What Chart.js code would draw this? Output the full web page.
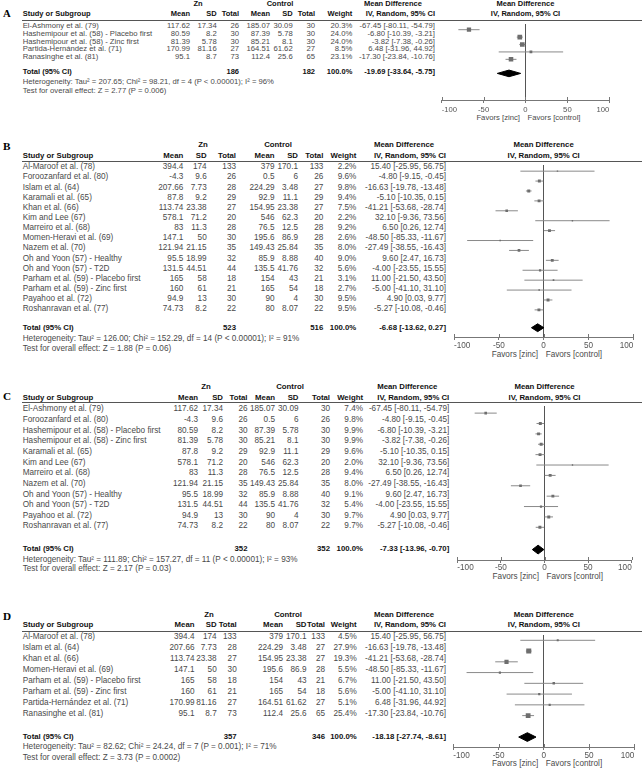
<!DOCTYPE html>
<html>
<head>
<meta charset="utf-8">
<script src="https://cdn.jsdelivr.net/npm/chart.js@4.4.1/dist/chart.umd.min.js"></script>
<style>
  html, body { margin: 0; padding: 0; background: #fff; }
  #page { position: relative; width: 642px; height: 768px; overflow: hidden; font-family: 'Liberation Sans', Arial, sans-serif; }
  .t { position: absolute; white-space: nowrap; line-height: 1; color: #4a4a4a; }
  .b { font-weight: bold; color: #111; }
  .lbl { font-family: 'Liberation Serif', 'Times New Roman', serif; font-weight: bold; color: #000; }
  .rule { position: absolute; height: 1px; background: #555; }
  canvas { position: absolute; }
</style>
</head>
<body>
<div id="page"></div>
<script>
// ---- panel A ----
const studiesA = ['El-Ashmony et al. (79)', 'Hashemipour et al. (58) - Placebo first', 'Hashemipour et al. (58) - Zinc first', 'Partida-Hernández et al. (71)', 'Ranasinghe et al. (81)'];
const znA = [[117.62, 17.34, 26], [80.59, 8.2, 30], [81.39, 5.78, 30], [170.99, 81.16, 27], [95.1, 8.7, 73]];
const ctrlA = [[185.07, 30.09, 30], [87.39, 5.78, 30], [85.21, 8.1, 30], [164.51, 61.62, 27], [112.4, 25.6, 65]];
const weightA = [20.3, 24.0, 24.0, 8.5, 23.1];
const mdA = [[-67.45, -80.11, -54.79], [-6.80, -10.39, -3.21], [-3.82, -7.38, -0.26], [6.48, -31.96, 44.92], [-17.30, -23.84, -10.76]];
const totalNA = [186, 182];
const totalMdA = [-19.69, -33.64, -5.75];
const hetA = 'Heterogeneity: Tau² = 207.65; Chi² = 98.21, df = 4 (P < 0.00001); I² = 96%';
const testA = 'Test for overall effect: Z = 2.77 (P = 0.006)';

// ---- panel B ----
const studiesB = ['Al-Maroof et al. (78)', 'Foroozanfard et al. (80)', 'Islam et al. (64)', 'Karamali et al. (65)', 'Khan et al. (66)', 'Kim and Lee (67)', 'Marreiro et al. (68)', 'Momen-Heravi et al. (69)', 'Nazem et al. (70)', 'Oh and Yoon (57) - Healthy', 'Oh and Yoon (57) - T2D', 'Parham et al. (59) - Placebo first', 'Parham et al. (59) - Zinc first', 'Payahoo et al. (72)', 'Roshanravan et al. (77)'];
const znB = [[394.4, 174, 133], [-4.3, 9.6, 26], [207.66, 7.73, 28], [87.8, 9.2, 29], [113.74, 23.38, 27], [578.1, 71.2, 20], [83, 11.3, 28], [147.1, 50, 30], [121.94, 21.15, 35], [95.5, 18.99, 32], [131.5, 44.51, 44], [165, 58, 18], [160, 61, 21], [94.9, 13, 30], [74.73, 8.2, 22]];
const ctrlB = [[379, 170.1, 133], [0.5, 6, 26], [224.29, 3.48, 27], [92.9, 11.1, 29], [154.95, 23.38, 27], [546, 62.3, 20], [76.5, 12.5, 28], [195.6, 86.9, 28], [149.43, 25.84, 35], [85.9, 8.88, 40], [135.5, 41.76, 32], [154, 43, 21], [165, 54, 18], [90, 4, 30], [80, 8.07, 22]];
const weightB = [2.2, 9.6, 9.8, 9.4, 7.5, 2.2, 9.2, 2.6, 8.0, 9.0, 5.6, 3.1, 2.7, 9.5, 9.5];
const mdB = [[15.40, -25.95, 56.75], [-4.80, -9.15, -0.45], [-16.63, -19.78, -13.48], [-5.10, -10.35, 0.15], [-41.21, -53.68, -28.74], [32.10, -9.36, 73.56], [6.50, 0.26, 12.74], [-48.50, -85.33, -11.67], [-27.49, -38.55, -16.43], [9.60, 2.47, 16.73], [-4.00, -23.55, 15.55], [11.00, -21.50, 43.50], [-5.00, -41.10, 31.10], [4.90, 0.03, 9.77], [-5.27, -10.08, -0.46]];
const totalNB = [523, 516];
const totalMdB = [-6.68, -13.62, 0.27];
const hetB = 'Heterogeneity: Tau² = 126.00; Chi² = 152.29, df = 14 (P < 0.00001); I² = 91%';
const testB = 'Test for overall effect: Z = 1.88 (P = 0.06)';

// ---- panel C ----
const studiesC = ['El-Ashmony et al. (79)', 'Foroozanfard et al. (80)', 'Hashemipour et al. (58) - Placebo first', 'Hashemipour et al. (58) - Zinc first', 'Karamali et al. (65)', 'Kim and Lee (67)', 'Marreiro et al. (68)', 'Nazem et al. (70)', 'Oh and Yoon (57) - Healthy', 'Oh and Yoon (57) - T2D', 'Payahoo et al. (72)', 'Roshanravan et al. (77)'];
const znC = [[117.62, 17.34, 26], [-4.3, 9.6, 26], [80.59, 8.2, 30], [81.39, 5.78, 30], [87.8, 9.2, 29], [578.1, 71.2, 20], [83, 11.3, 28], [121.94, 21.15, 35], [95.5, 18.99, 32], [131.5, 44.51, 44], [94.9, 13, 30], [74.73, 8.2, 22]];
const ctrlC = [[185.07, 30.09, 30], [0.5, 6, 26], [87.39, 5.78, 30], [85.21, 8.1, 30], [92.9, 11.1, 29], [546, 62.3, 20], [76.5, 12.5, 28], [149.43, 25.84, 35], [85.9, 8.88, 40], [135.5, 41.76, 32], [90, 4, 30], [80, 8.07, 22]];
const weightC = [7.4, 9.8, 9.9, 9.9, 9.6, 2.0, 9.4, 8.0, 9.1, 5.4, 9.7, 9.7];
const mdC = [[-67.45, -80.11, -54.79], [-4.80, -9.15, -0.45], [-6.80, -10.39, -3.21], [-3.82, -7.38, -0.26], [-5.10, -10.35, 0.15], [32.10, -9.36, 73.56], [6.50, 0.26, 12.74], [-27.49, -38.55, -16.43], [9.60, 2.47, 16.73], [-4.00, -23.55, 15.55], [4.90, 0.03, 9.77], [-5.27, -10.08, -0.46]];
const totalNC = [352, 352];
const totalMdC = [-7.33, -13.96, -0.70];
const hetC = 'Heterogeneity: Tau² = 111.89; Chi² = 157.27, df = 11 (P < 0.00001); I² = 93%';
const testC = 'Test for overall effect: Z = 2.17 (P = 0.03)';

// ---- panel D ----
const studiesD = ['Al-Maroof et al. (78)', 'Islam et al. (64)', 'Khan et al. (66)', 'Momen-Heravi et al. (69)', 'Parham et al. (59) - Placebo first', 'Parham et al. (59) - Zinc first', 'Partida-Hernández et al. (71)', 'Ranasinghe et al. (81)'];
const znD = [[394.4, 174, 133], [207.66, 7.73, 28], [113.74, 23.38, 27], [147.1, 50, 30], [165, 58, 18], [160, 61, 21], [170.99, 81.16, 27], [95.1, 8.7, 73]];
const ctrlD = [[379, 170.1, 133], [224.29, 3.48, 27], [154.95, 23.38, 27], [195.6, 86.9, 28], [154, 43, 21], [165, 54, 18], [164.51, 61.62, 27], [112.4, 25.6, 65]];
const weightD = [4.5, 27.9, 19.3, 5.5, 6.7, 5.6, 5.1, 25.4];
const mdD = [[15.40, -25.95, 56.75], [-16.63, -19.78, -13.48], [-41.21, -53.68, -28.74], [-48.50, -85.33, -11.67], [11.00, -21.50, 43.50], [-5.00, -41.10, 31.10], [6.48, -31.96, 44.92], [-17.30, -23.84, -10.76]];
const totalND = [357, 346];
const totalMdD = [-18.18, -27.74, -8.61];
const hetD = 'Heterogeneity: Tau² = 82.62; Chi² = 24.24, df = 7 (P = 0.001); I² = 71%';
const testD = 'Test for overall effect: Z = 3.73 (P = 0.0002)';

const axisTicks = [-100, -50, 0, 50, 100];

// layout of each panel (pixels)
const layoutA = { font: 7.7, bold: 7.5, labelY: 13, znY: 4, headY: 14, lineY: 20, row0: 26, rowH: 7.8, totalY: 72, hetY: 82, testY: 91,
  axisY: 100, tickY: 109, favY: 118, xMin: 441.7, xMax: 609.3, dia: 3.5, znX: 198, ctrlX: 280,
  col: { mean: 190, sd: 216.7, tot: 239, cmean: 270, csd: 292.7, ctot: 315, w: 352.3, ci: 435 } };
const layoutB = { font: 8.2, bold: 7.8, labelY: 147, znY: 145, headY: 155.5, lineY: 160.5, row0: 167.3, rowH: 10.14, totalY: 327.5, hetY: 338.5, testY: 349,
  axisY: 337.3, tickY: 345.5, favY: 354.5, xMin: 454, xMax: 633.3, dia: 4, znX: 203, ctrlX: 278,
  col: { mean: 183.3, sd: 206.7, tot: 236, cmean: 274.5, csd: 298, ctot: 323.3, w: 356.3, ci: 446 } };
const layoutC = { font: 8.2, bold: 7.8, labelY: 396.5, znY: 387, headY: 397.5, lineY: 402.2, row0: 409.3, rowH: 10.65, totalY: 549.3, hetY: 559.5, testY: 568.5,
  axisY: 560, tickY: 567, favY: 576.5, xMin: 457.3, xMax: 631.7, dia: 4.5, znX: 206, ctrlX: 290,
  col: { mean: 198, sd: 223, tot: 247.5, cmean: 275, csd: 298.5, ctot: 330, w: 363, ci: 449.3 } };
const layoutD = { font: 8.2, bold: 7.8, labelY: 616.5, znY: 615, headY: 625, lineY: 630.5, row0: 636.5, rowH: 11.14, totalY: 736.7, hetY: 747.3, testY: 758.3,
  axisY: 747.3, tickY: 755, favY: 764.3, xMin: 453.3, xMax: 634.3, dia: 4.5, znX: 209, ctrlX: 288,
  col: { mean: 194.5, sd: 216.7, tot: 236.7, cmean: 283, csd: 306.5, ctot: 325, w: 356.7, ci: 446 } };

const panels = [
  { name: 'A', studies: studiesA, zn: znA, ctrl: ctrlA, weight: weightA, md: mdA, totalN: totalNA, totalMd: totalMdA, het: hetA, test: testA, L: layoutA },
  { name: 'B', studies: studiesB, zn: znB, ctrl: ctrlB, weight: weightB, md: mdB, totalN: totalNB, totalMd: totalMdB, het: hetB, test: testB, L: layoutB },
  { name: 'C', studies: studiesC, zn: znC, ctrl: ctrlC, weight: weightC, md: mdC, totalN: totalNC, totalMd: totalMdC, het: hetC, test: testC, L: layoutC },
  { name: 'D', studies: studiesD, zn: znD, ctrl: ctrlD, weight: weightD, md: mdD, totalN: totalND, totalMd: totalMdD, het: hetD, test: testD, L: layoutD },
];

const page = document.getElementById('page');
const f2 = v => v.toFixed(2);
const ciText = m => `${f2(m[0])} [${f2(m[1])}, ${f2(m[2])}]`;

function put(text, x, y, align, cls, size) {
  const el = document.createElement('span');
  el.className = 't' + (cls ? ' ' + cls : '');
  el.textContent = text;
  el.style.left = x + 'px';
  el.style.top = y + 'px';
  el.style.fontSize = size + 'px';
  const tx = align === 'r' ? '-100%' : align === 'c' ? '-50%' : '0';
  el.style.transform = `translate(${tx}, -50%)`;
  page.appendChild(el);
}

function drawTable(p) {
  const L = p.L, c = L.col, fs = L.font, bs = L.bold, left = 22.7;
  const zero = (L.xMin + L.xMax) / 2;
  put(p.name, 3, L.labelY, 'l', 'lbl', fs + 3);
  put('Zn', L.znX, L.znY, 'c', 'b', bs);
  put('Control', L.ctrlX, L.znY, 'c', 'b', bs);
  put('Mean Difference', c.ci - 42, L.znY, 'c', 'b', bs);
  put('Mean Difference', zero, L.znY, 'c', 'b', bs);
  put('Study or Subgroup', left, L.headY, 'l', 'b', bs);
  [['Mean', c.mean], ['SD', c.sd], ['Total', c.tot], ['Mean', c.cmean], ['SD', c.csd], ['Total', c.ctot], ['Weight', c.w], ['IV, Random, 95% CI', c.ci]]
    .forEach(h => put(h[0], h[1], L.headY, 'r', 'b', bs));
  put('IV, Random, 95% CI', zero, L.headY, 'c', 'b', bs);

  const rule = document.createElement('div');
  rule.className = 'rule';
  rule.style.left = '22px';
  rule.style.top = (Math.round(L.lineY) - 0.5) + 'px';
  rule.style.width = '620px';
  page.appendChild(rule);

  p.studies.forEach((s, i) => {
    const y = L.row0 + i * L.rowH;
    put(s, left, y, 'l', '', fs);
    put(String(p.zn[i][0]), c.mean, y, 'r', '', fs);
    put(String(p.zn[i][1]), c.sd, y, 'r', '', fs);
    put(String(p.zn[i][2]), c.tot, y, 'r', '', fs);
    put(String(p.ctrl[i][0]), c.cmean, y, 'r', '', fs);
    put(String(p.ctrl[i][1]), c.csd, y, 'r', '', fs);
    put(String(p.ctrl[i][2]), c.ctot, y, 'r', '', fs);
    put(p.weight[i].toFixed(1) + '%', c.w, y, 'r', '', fs);
    put(ciText(p.md[i]), c.ci, y, 'r', '', fs);
  });

  put('Total (95% CI)', left, L.totalY, 'l', 'b', bs);
  put(String(p.totalN[0]), c.tot, L.totalY, 'r', 'b', bs);
  put(String(p.totalN[1]), c.ctot, L.totalY, 'r', 'b', bs);
  put('100.0%', c.w, L.totalY, 'r', 'b', bs);
  put(ciText(p.totalMd), c.ci, L.totalY, 'r', 'b', bs);
  put(p.het, left, L.hetY, 'l', '', fs);
  put(p.test, left, L.testY, 'l', '', fs);

  put('Favors [zinc]', zero - 5.5, L.favY, 'r', '', fs);
  put('Favors [control]', zero + 2, L.favY, 'l', '', fs);
}

// short upward half of the tick marks on the x axis
const tickUp = {
  id: 'tickUp',
  afterDraw(chart) {
    const s = chart.scales.x, ctx = chart.ctx, y = chart.chartArea.bottom;
    ctx.save();
    ctx.strokeStyle = '#777';
    ctx.lineWidth = 1;
    s.ticks.forEach(t => {
      const x = Math.round(s.getPixelForValue(t.value)) + 0.5;
      ctx.beginPath();
      ctx.moveTo(x, y - 3);
      ctx.lineTo(x, y);
      ctx.stroke();
    });
    ctx.restore();
  }
};

const markSide = w => Math.max(1.2, 0.95 * Math.sqrt(w));

function drawPlot(p) {
  const L = p.L, axisBox = 16;
  const left = Math.round(L.xMin - 10);
  const top = Math.round(L.lineY);
  const w = Math.round(L.xMax - left + 10);
  const areaH = Math.round(L.axisY) - top;
  const h = areaH + axisBox;
  const canvas = document.createElement('canvas');
  canvas.width = w;
  canvas.height = h;
  canvas.style.left = left + 'px';
  canvas.style.top = top + 'px';
  canvas.style.width = w + 'px';
  canvas.style.height = h + 'px';
  page.appendChild(canvas);

  const yMin = (top - L.row0) / L.rowH;
  const yMax = (top + areaH - L.row0) / L.rowH;
  const ty = (L.totalY - L.row0) / L.rowH;
  const dh = L.dia / L.rowH;
  const t = p.totalMd;

  const squares = p.md.map((m, i) => ({ x: m[0], y: i, w: p.weight[i] }));
  const ciSets = p.md.map((m, i) => ({
    type: 'scatter',
    data: [{ x: m[1], y: i }, { x: m[2], y: i }],
    showLine: true,
    borderColor: '#8a8a8a',
    borderWidth: 1,
    pointRadius: 0,
  }));

  new Chart(canvas, {
    data: {
      datasets: [
        {
          type: 'scatter',
          data: squares,
          pointStyle: 'rect',
          pointRadius: ctx => ctx.raw ? markSide(ctx.raw.w) / Math.SQRT2 : 0,
          backgroundColor: '#6e6e6e',
          borderWidth: 0,
        },
        {
          type: 'scatter',
          data: [{ x: t[1], y: ty }, { x: t[0], y: ty - dh }, { x: t[2], y: ty }, { x: t[0], y: ty + dh }, { x: t[1], y: ty }],
          showLine: true,
          fill: 'shape',
          backgroundColor: '#000',
          borderColor: '#000',
          borderWidth: 1,
          pointRadius: 0,
        },
        ...ciSets,
      ],
    },
    options: {
      responsive: false,
      animation: false,
      events: [],
      layout: { padding: { left: L.xMin - left, right: left + w - L.xMax, top: 0, bottom: 0 } },
      plugins: { legend: { display: false }, tooltip: { enabled: false } },
      scales: {
        x: {
          type: 'linear',
          min: -100,
          max: 100,
          afterFit: s => { s.height = axisBox; },
          afterBuildTicks: s => { s.ticks = axisTicks.map(v => ({ value: v })); },
          border: { display: true, color: '#777', width: 1 },
          grid: {
            drawOnChartArea: true,
            color: ctx => (ctx.tick && ctx.tick.value === 0) ? '#555' : 'rgba(0,0,0,0)',
            tickColor: '#777',
            tickLength: 3,
            lineWidth: 1,
          },
          ticks: {
            align: 'inner',
            maxRotation: 0,
            autoSkip: false,
            padding: Math.max(0, L.tickY - L.axisY - 3 - L.font / 2),
            color: '#555',
            font: { family: "'Liberation Sans', Arial, sans-serif", size: L.font },
          },
        },
        y: { type: 'linear', display: false, reverse: true, min: yMin, max: yMax },
      },
    },
    plugins: [tickUp],
  });
}

panels.forEach(p => { drawTable(p); drawPlot(p); });
</script>
</body>
</html>
